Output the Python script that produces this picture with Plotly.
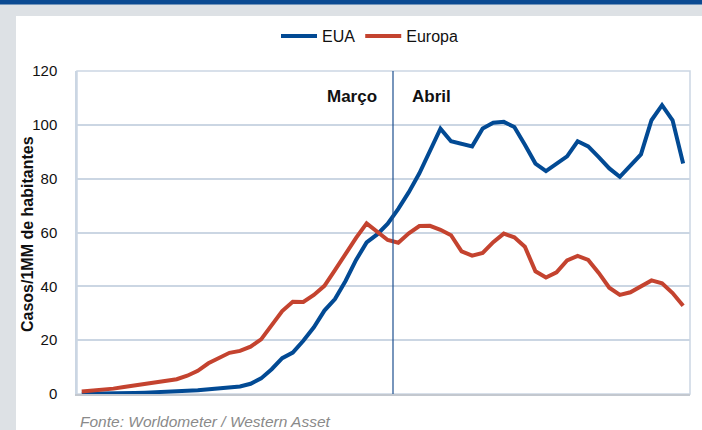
import datetime as dt
import plotly.graph_objects as go

# daily points, 2 Mar - 28 Apr 2020
dias = [(dt.date(2020, 3, 2) + dt.timedelta(days=i)).isoformat() for i in range(58)]

eua = [0.1, 0.1, 0.2, 0.2, 0.3, 0.4, 0.5, 0.6, 0.8, 1.0,
       1.2, 1.4, 1.7, 2.0, 2.4, 2.8, 3.8, 5.8, 9.2, 13.3,
       15.4, 19.8, 24.8, 31.0, 35.3, 42.0, 49.8, 56.3, 59.3, 63.3,
       68.8, 75.0, 82.0, 90.2, 98.6, 93.9, 93.0, 92.0, 98.6, 100.8,
       101.1, 99.2, 92.6, 85.6, 82.8, 85.5, 88.3, 93.9, 92.0, 88.0,
       83.8, 80.7, 84.9, 89.0, 101.7, 107.3, 101.7, 85.6]

europa = [0.9, 1.2, 1.6, 2.0, 2.6, 3.2, 3.8, 4.5, 5.0, 5.5,
          6.8, 8.6, 11.4, 13.3, 15.3, 16.0, 17.6, 20.3, 25.5, 30.8,
          34.3, 34.2, 36.8, 40.2, 46.0, 52.2, 58.0, 63.4, 60.3, 57.2,
          56.2, 59.7, 62.4, 62.5, 61.0, 59.0, 53.0, 51.4, 52.4, 56.4,
          59.6, 58.2, 54.7, 45.6, 43.3, 45.2, 49.6, 51.3, 49.8, 45.0,
          39.5, 36.8, 37.8, 40.0, 42.2, 41.1, 37.5, 32.8]

y_ticks = [0, 20, 40, 60, 80, 100, 120]

FONT = "Liberation Sans Narrow, Arial Narrow, Liberation Sans, Arial"
BLUE = "#024a94"
RED = "#c4432f"
GRID = "#cbd6e3"
PANEL = "#dde1e5"

fig = go.Figure()
fig.add_trace(go.Scatter(x=dias, y=eua, name="EUA", mode="lines",
                         line=dict(color=BLUE, width=4)))
fig.add_trace(go.Scatter(x=dias, y=europa, name="Europa", mode="lines",
                         line=dict(color=RED, width=4)))

# gray frame + blue strip around the white panel (paper coords)
pw, ph = 613, 323
def px_x(p):
    return (p - 77) / pw
def px_y(p):
    return (394 - p) / ph

shapes = [
    dict(type="rect", xref="paper", yref="paper", layer="below",
         x0=px_x(0), x1=px_x(16), y0=px_y(430), y1=px_y(0),
         fillcolor=PANEL, line_width=0),
    dict(type="rect", xref="paper", yref="paper", layer="below",
         x0=px_x(0), x1=px_x(702), y0=px_y(16), y1=px_y(0),
         fillcolor=PANEL, line_width=0),
    dict(type="rect", xref="paper", yref="paper", layer="below",
         x0=px_x(0), x1=px_x(702), y0=px_y(4.5), y1=px_y(0),
         fillcolor="#0b4a92", line_width=0),
    # plot box (top and right)
    dict(type="rect", xref="paper", yref="paper", layer="below",
         x0=0, x1=1, y0=0, y1=1, line=dict(color=GRID, width=1.5)),
    # March / April divider
    dict(type="line", xref="x", yref="paper", x0=29.5, x1=29.5, y0=0, y1=1,
         line=dict(color="#1d4f8f", width=1.2)),
]

fig.update_layout(
    width=702, height=430,
    margin=dict(l=77, r=12, t=71, b=36),
    paper_bgcolor="white", plot_bgcolor="white",
    font=dict(family=FONT, size=15, color="#111111"),
    shapes=shapes,
    showlegend=True,
    legend=dict(orientation="h", x=px_x(276), y=px_y(36), xanchor="left",
                yanchor="middle", font=dict(size=16), bgcolor="rgba(0,0,0,0)",
                itemwidth=36, tracegroupgap=0),
    annotations=[
        dict(text="<b>Casos/1MM de habitantes</b>", x=px_x(27), y=px_y(234),
             xref="paper", yref="paper", textangle=-90, showarrow=False,
             xanchor="center", yanchor="middle", font=dict(size=16)),
        dict(text="<b>Março</b>", x=29.5, y=110.5, xref="x", yref="y",
             xanchor="right", yanchor="middle", xshift=-14, showarrow=False,
             font=dict(size=17)),
        dict(text="<b>Abril</b>", x=29.5, y=110.5, xref="x", yref="y",
             xanchor="left", yanchor="middle", xshift=17, showarrow=False,
             font=dict(size=17)),
        dict(text="<i>Fonte: Worldometer / Western Asset</i>", x=px_x(78),
             y=px_y(421), xref="paper", yref="paper", xanchor="left",
             yanchor="middle", showarrow=False,
             font=dict(size=15.5, color="#8a8a8a")),
    ],
)

fig.update_xaxes(type="category", range=[-0.45, 57.65], showticklabels=False,
                 ticks="", showgrid=False, zeroline=False,
                 showline=True, linecolor="#c3c8cf", linewidth=2)
fig.update_yaxes(range=[0, 120], tickvals=y_ticks, showgrid=True,
                 gridcolor=GRID, gridwidth=1.5, zeroline=False,
                 showline=True, linecolor=GRID, linewidth=1.5, ticks="",
                 ticklabelstandoff=15)

fig.write_html("out.html", config={"displayModeBar": False},
               post_script="document.body.style.margin='0';")
